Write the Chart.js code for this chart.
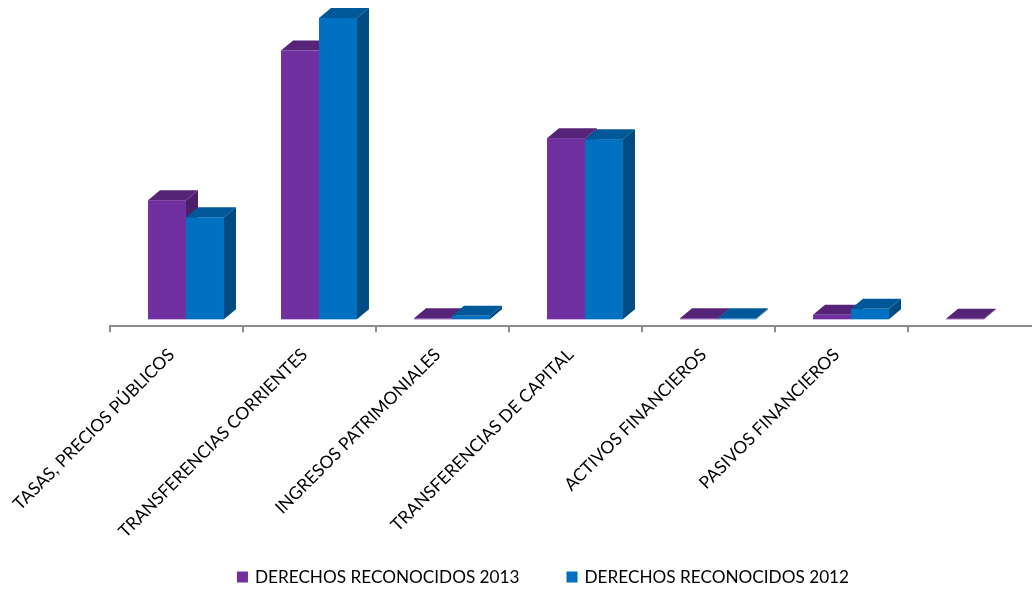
<!DOCTYPE html>
<html>
<head>
<meta charset="utf-8">
<script src="https://cdn.jsdelivr.net/npm/chart.js@4/dist/chart.umd.min.js"></script>
<style>
  html, body { margin: 0; padding: 0; background: #fff; overflow: hidden; }
  #wrap { width: 1086px; height: 591px; }
</style>
</head>
<body>
<div id="wrap"><canvas id="chart1" width="1086" height="591"></canvas></div>
<script>
const categories = ['TASAS, PRECIOS PÚBLICOS', 'TRANSFERENCIAS CORRIENTES', 'INGRESOS PATRIMONIALES',
  'TRANSFERENCIAS DE CAPITAL', 'ACTIVOS FINANCIEROS', 'PASIVOS FINANCIEROS', ''];
const derechos2013 = [119, 268.5, 1, 181, 1, 4.5, 0];
const derechos2012 = [102, 301, 3.5, 180, 1, 10.5, null];
const seriesNames = ['DERECHOS RECONOCIDOS 2013', 'DERECHOS RECONOCIDOS 2012'];

const FONT = 'Lato, "Liberation Sans", sans-serif';
const DX = 12, DY = 10, SHIFT = 9.5;
// front, top, side
const shades = [
  ['#7030a0', '#552479', '#4b1f6b'],
  ['#0070c0', '#005898', '#004b82']
];

// draws the bars as boxes (front + top + side) from the bar elements
const boxes = {
  id: 'boxes',
  beforeDatasetsDraw(chart) {
    const ctx = chart.ctx;
    chart.data.datasets.forEach((ds, i) => {
      const meta = chart.getDatasetMeta(i);
      const c = shades[i];
      meta.data.forEach((el, j) => {
        if (ds.data[j] === null) return;
        const p = el.getProps(['x', 'y', 'base', 'width'], true);
        const l = p.x - p.width / 2 + SHIFT, r = p.x + p.width / 2 + SHIFT;
        const t = Math.min(p.y, p.base - 0.5), b = p.base;
        ctx.save();
        ctx.fillStyle = c[0];
        ctx.fillRect(l, t, r - l, b - t);
        ctx.fillStyle = c[1];
        ctx.beginPath();
        ctx.moveTo(l, t); ctx.lineTo(l + DX, t - DY); ctx.lineTo(r + DX, t - DY); ctx.lineTo(r, t);
        ctx.closePath(); ctx.fill();
        ctx.fillStyle = c[2];
        ctx.beginPath();
        ctx.moveTo(r, t); ctx.lineTo(r + DX, t - DY); ctx.lineTo(r + DX, b - DY); ctx.lineTo(r, b);
        ctx.closePath(); ctx.fill();
        ctx.restore();
      });
    });
    return false;
  }
};

// legend at the bottom, centred
const bottomLegend = {
  id: 'bottomLegend',
  afterDraw(chart) {
    const ctx = chart.ctx;
    ctx.save();
    ctx.font = '17.2px ' + FONT;
    ctx.textBaseline = 'middle';
    const box = 11, gap = 7, itemGap = 47;
    const w = seriesNames.map(s => ctx.measureText(s).width);
    const total = box * 2 + gap * 2 + w[0] + w[1] + itemGap;
    let x = chart.width / 2 - total / 2;
    const y = 577;
    seriesNames.forEach((s, i) => {
      ctx.fillStyle = shades[i][0];
      ctx.fillRect(x, y - 5.5, box, box);
      x += box + gap;
      ctx.fillStyle = '#000';
      ctx.fillText(s, x, y);
      x += w[i] + itemGap;
    });
    ctx.restore();
  }
};

const ctx = document.getElementById('chart1').getContext('2d');
const chart = new Chart(ctx, {
  type: 'bar',
  data: {
    labels: categories,
    datasets: [
      { label: seriesNames[0], data: derechos2013, backgroundColor: shades[0][0] },
      { label: seriesNames[1], data: derechos2012, backgroundColor: shades[1][0] }
    ]
  },
  options: {
    responsive: false,
    animation: false,
    layout: { padding: { left: 110, right: 45, top: 10, bottom: 37 } },
    categoryPercentage: 0.571,
    barPercentage: 1,
    plugins: { legend: { display: false }, tooltip: { enabled: false } },
    scales: {
      x: {
        grid: { drawOnChartArea: false, drawTicks: true, tickLength: 6, color: '#8c8c8c', lineWidth: 2 },
        border: { color: '#8c8c8c', width: 2 },
        ticks: { maxRotation: 45, minRotation: 45, color: '#000', font: { family: FONT, size: 17.5 }, padding: 12, labelOffset: -5 }
      },
      y: { display: false, min: -7, max: 309 }
    }
  },
  plugins: [boxes, bottomLegend]
});
</script>
</body>
</html>
